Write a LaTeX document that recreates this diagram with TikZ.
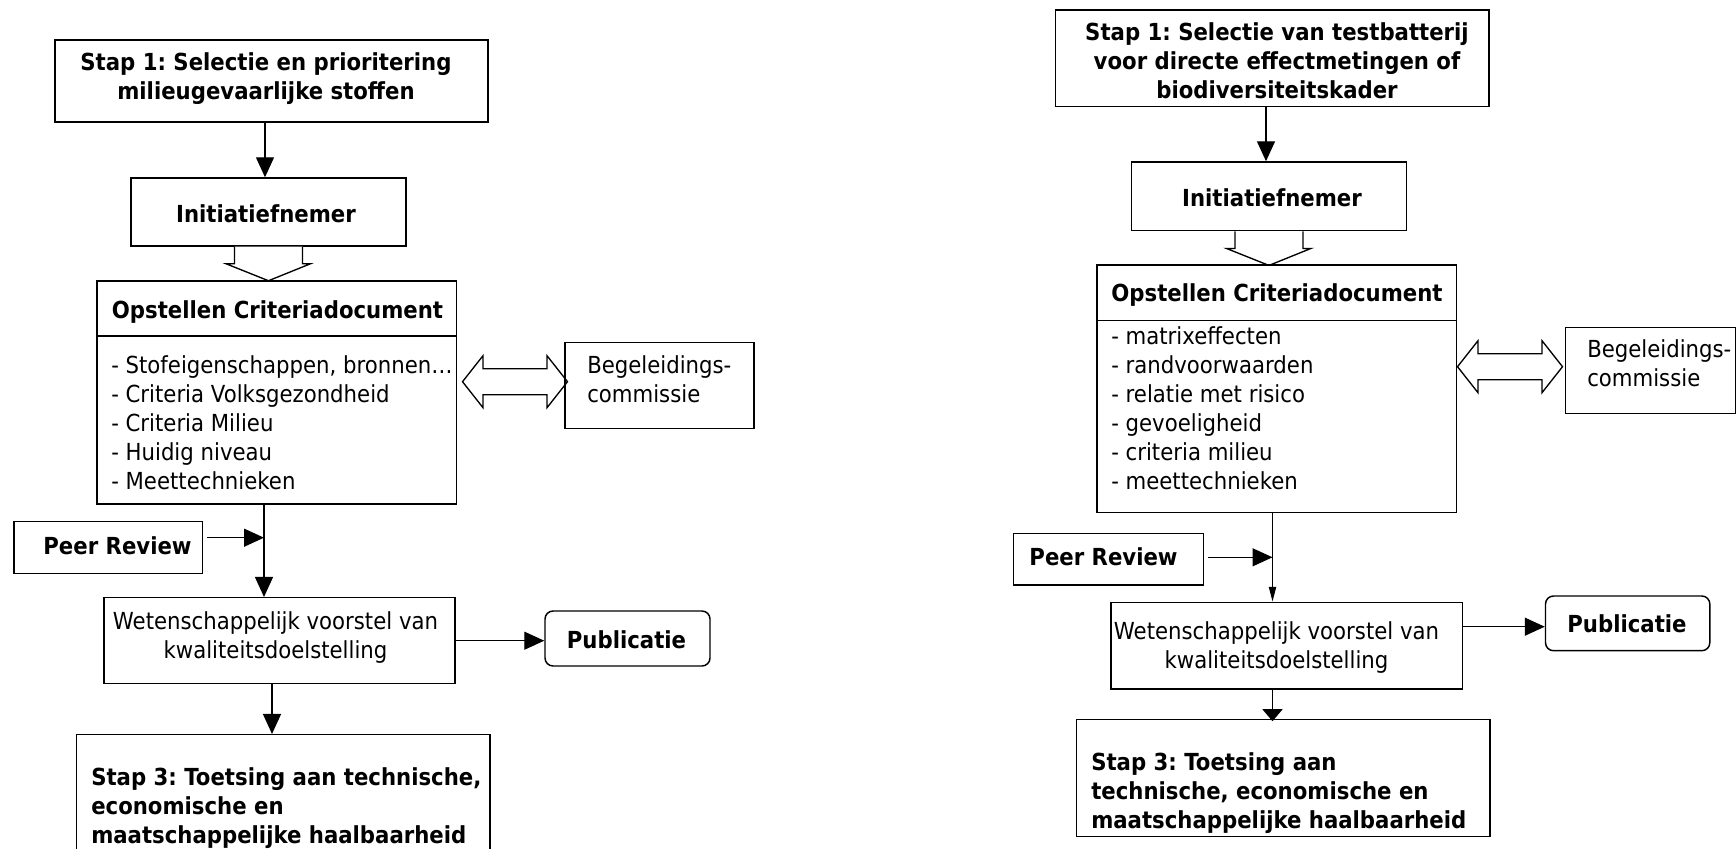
\documentclass[tikz,border=0pt]{standalone}
\usepackage{fontspec}
\setmainfont[FakeStretch=0.905]{DejaVu Sans}
\usetikzlibrary{fit,arrows.meta}
\frenchspacing

\begin{document}
\begin{tikzpicture}[x=0.75pt,y=-0.75pt,
  box/.style={draw, line width=1.1pt, inner sep=0pt},
  rbox/.style={box, rounded corners=6pt},
  txt/.style={inner sep=0pt, font=\fontsize{17.6}{21.75}\selectfont},
  btxt/.style={inner sep=0pt, font=\fontsize{17.6}{21.75}\selectfont\bfseries},
  conn/.style={line width=1pt, -{Triangle[length=15pt,width=13.5pt]}},
  sconn/.style={line width=1pt, -{Triangle[length=11pt,width=5.4pt]}},
  wconn/.style={line width=1pt, -{Triangle[length=9pt,width=15pt]}},
  blockarrow/.pic={\draw[line width=1pt, fill=white]
    (-34,0) -- (-34,17) -- (-42.5,17) -- (0,34) -- (42,17) -- (34,17) -- (34,0);},
  dblarrow/.pic={\draw[line width=1pt, fill=white]
    (-52.5,0) -- (-32,-26) -- (-32,-13) -- (32,-13) -- (32,-26) -- (52.5,0)
    -- (32,26) -- (32,13) -- (-32,13) -- (-32,26) -- cycle;}
]
\fill[white] (0,0) rectangle (1736,849);
\useasboundingbox (0,0) rectangle (1736,849);

% ---------------- left flow ----------------
\node[box, fit={(55,40) (488,122)}] (s1L) {};
\node[btxt, align=center] (s1Lt) at (266,78.5)
  {Stap 1: Selectie en prioritering\\milieugevaarlijke stoffen};
\node[box, fit={(131,178) (406,246)}] (iniL) {};
\node[btxt] (iniLt) at (266,214) {Initiatiefnemer};
\pic at (iniL.south) {blockarrow};

\node[box, fit={(97,281) (456.6,336)}] (odLt) {};
\node[btxt] (odLtt) at (277.5,312) {Opstellen Criteriadocument};
\node[box, fit={(97,336) (456.6,504)}] (odL) {};
\node[txt, align=left, anchor=west] (odLi) at (111,423)
  {- Stofeigenschappen, bronnen…\\- Criteria Volksgezondheid\\- Criteria Milieu\\- Huidig niveau\\- Meettechnieken};

\pic at (515,381.7) {dblarrow};
\node[box, fit={(565,342.7) (754,428.7)}] (begL) {};
\node[txt, align=left, anchor=west] (begLt) at (587,379) {Begeleidings-\\commissie};

\node[box, fit={(14,521.7) (202.6,573.3)}] (prL) {};
\node[btxt] (prLt) at (117.5,545.5) {Peer Review};

\node[box, fit={(104,597.7) (455,683.7)}] (wetL) {};
\node[txt, align=center] (wetLt) at (275.5,637.5)
  {Wetenschappelijk voorstel van\\kwaliteitsdoelstelling};

\node[rbox, fit={(545,611) (710,666)}] (pubL) {};
\node[btxt] (pubLt) at (626.5,639.5) {Publicatie};

\node[box, fit={(76.5,734.7) (490,870)}] (s3L) {};
\node[btxt, align=left, anchor=west] (s3Lt) at (91,808.5)
  {Stap 3: Toetsing aan technische,\\economische en\\maatschappelijke haalbaarheid};

\coordinate (aL) at (265,0);
\coordinate (jL) at (264,537.7);
\coordinate (kL) at (272,0);
\draw[conn] (aL |- s1L.south) -- (aL |- iniL.north);
\draw[conn] (jL |- odL.south) -- (jL |- wetL.north);
\draw[conn, shorten <=3pt] (prL.east |- jL) -- (jL);
\draw[conn] (wetL.east) -- (wetL.east -| pubL.west);
\draw[conn] (kL |- wetL.south) -- (kL |- s3L.north);

% ---------------- right flow ----------------
\node[box, fit={(1055.4,10) (1489,106.7)}] (s1R) {};
\node[btxt, align=center] (s1Rt) at (1277,60.5)
  {Stap 1: Selectie van testbatterij\\voor directe effectmetingen of\\biodiversiteitskader};
\node[box, fit={(1131.4,162) (1406.5,230.7)}] (iniR) {};
\node[btxt] (iniRt) at (1272,198) {Initiatiefnemer};
\pic at (iniR.south) {blockarrow};

\node[box, fit={(1097,265) (1456.7,320.3)}] (odRt) {};
\node[btxt] (odRtt) at (1277,295.5) {Opstellen Criteriadocument};
\node[box, fit={(1097,320.3) (1456.7,512.7)}] (odR) {};
\node[txt, align=left, anchor=west] (odRi) at (1111,408.5)
  {- matrixeffecten\\- randvoorwaarden\\- relatie met risico\\- gevoeligheid\\- criteria milieu\\- meettechnieken};

\pic at (1510,366.7) {dblarrow};
\node[box, fit={(1565.6,327.3) (1735.4,413.3)}] (begR) {};
\node[txt, align=left, anchor=west] (begRt) at (1587,363) {Begeleidings-\\commissie};

\node[box, fit={(1013.4,533.3) (1203.5,585)}] (prR) {};
\node[btxt] (prRt) at (1103.5,557) {Peer Review};

\node[box, fit={(1111,602.3) (1462.3,689)}] (wetR) {};
\node[txt, align=center] (wetRt) at (1276.5,648)
  {Wetenschappelijk voorstel van\\kwaliteitsdoelstelling};

\node[rbox, fit={(1545.5,596) (1709.8,650.7)}] (pubR) {};
\node[btxt] (pubRt) at (1627,624) {Publicatie};

\node[box, fit={(1076.3,719.3) (1490,836.7)}] (s3R) {};
\node[btxt, align=left, anchor=west] (s3Rt) at (1091,793)
  {Stap 3: Toetsing aan\\technische, economische en\\maatschappelijke haalbaarheid};

\coordinate (aR) at (1266,0);
\coordinate (jR) at (1272.5,557.3);
\coordinate (pR) at (0,626.7);
\draw[conn] (aR |- s1R.south) -- (aR |- iniR.north);
\draw[sconn] (jR |- odR.south) -- (jR |- wetR.north);
\draw[conn, shorten <=3pt] (prR.east |- jR) -- (jR);
\draw[conn] (wetR.east |- pR) -- (pubR.west |- pR);
\draw[wconn] (jR |- wetR.south) -- ([yshift=-2pt]jR |- s3R.north);
\end{tikzpicture}
\end{document}
